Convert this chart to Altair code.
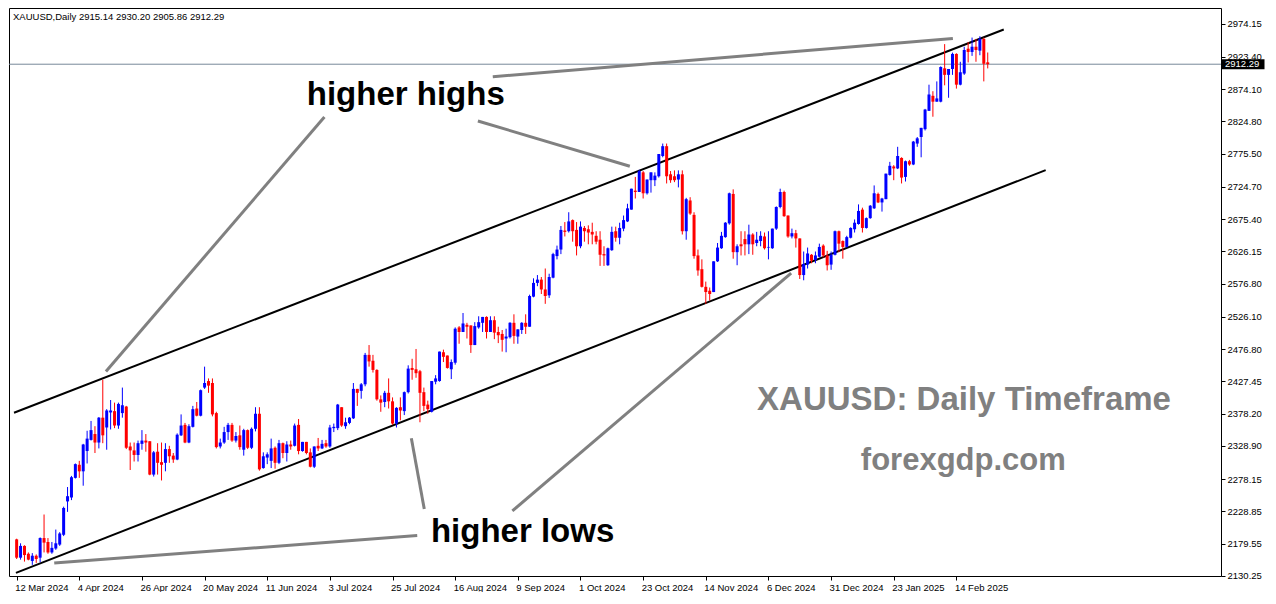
import altair as alt
import pandas as pd

# ---------------- data ----------------
opens = [2186,2158,2176,2164,2153,2161,2158,2188,2182,2166,2172,2178,2193,2244,2250,2280,2300,2290,2321,2338,
         2347,2334,2372,2357,2380,2382,2360,2379,2389,2328,2322,2315,2332,2337,2336,2285,2320,2304,2303,2324,
         2314,2308,2345,2361,2334,2358,2386,2375,2418,2428,2425,2379,2328,2334,2350,2361,2337,2345,2323,2353,
         2326,2355,2378,2295,2311,2306,2326,2303,2333,2318,2331,2329,2361,2321,2335,2319,2297,2329,2325,2333,
         2328,2356,2356,2388,2359,2364,2371,2416,2413,2423,2468,2459,2445,2400,2396,2410,2397,2363,2388,2382,
         2411,2448,2446,2443,2411,2392,2381,2427,2428,2472,2467,2446,2456,2510,2503,2514,2513,2483,2510,2517,
         2526,2503,2521,2503,2500,2493,2495,2517,2496,2506,2517,2511,2557,2578,2583,2568,2559,2586,2619,2629,
         2658,2657,2674,2659,2634,2662,2660,2656,2650,2644,2622,2605,2628,2657,2647,2661,2672,2690,2719,2717,
         2747,2715,2735,2735,2741,2772,2787,2744,2741,2736,2744,2657,2704,2682,2620,2599,2572,2566,2564,2611,
         2631,2648,2669,2714,2625,2637,2645,2637,2652,2639,2642,2649,2632,2631,2661,2694,2717,2681,2649,2654,
         2646,2590,2606,2621,2613,2618,2635,2620,2606,2621,2657,2642,2633,2647,2660,2668,2690,2662,2677,2692,
         2714,2701,2706,2743,2756,2753,2769,2740,2764,2759,2791,2801,2813,2841,2864,2855,2855,2906,2896,2905,
         2928,2881,2898,2936,2931,2939,2933,2951,2915.14]
highs = [2187,2180,2177,2166,2165,2163,2189,2224,2188,2182,2201,2197,2236,2266,2283,2302,2306,2332,2352,2367,
         2359,2373,2430,2385,2399,2395,2395,2418,2390,2334,2334,2337,2353,2347,2336,2321,2333,2334,2333,2329,
         2318,2348,2377,2364,2362,2390,2396,2415,2450,2432,2432,2381,2340,2358,2364,2364,2350,2360,2355,2354,
         2357,2388,2388,2319,2319,2340,2328,2338,2334,2336,2337,2363,2370,2335,2335,2325,2328,2341,2338,2338,
         2361,2363,2393,2388,2372,2373,2425,2416,2425,2471,2483,2468,2446,2406,2413,2432,2403,2388,2403,2412,
         2452,2462,2477,2445,2418,2398,2428,2437,2473,2476,2467,2461,2510,2512,2532,2517,2513,2518,2527,2526,
         2527,2527,2527,2511,2506,2508,2518,2530,2507,2518,2530,2560,2585,2590,2587,2600,2592,2624,2635,2665,
         2671,2686,2675,2671,2672,2665,2666,2670,2657,2657,2634,2632,2664,2664,2670,2681,2699,2722,2740,2751,
         2749,2736,2747,2747,2775,2791,2791,2749,2750,2750,2750,2708,2709,2686,2629,2614,2580,2571,2611,2639,
         2656,2671,2716,2721,2637,2657,2657,2667,2654,2656,2657,2655,2657,2661,2695,2722,2719,2681,2661,2659,
         2646,2626,2632,2622,2626,2638,2637,2627,2626,2658,2658,2643,2650,2663,2675,2698,2693,2678,2697,2727,
         2716,2708,2745,2763,2758,2786,2770,2765,2766,2795,2801,2815,2844,2881,2871,2886,2909,2943,2905,2930,
         2929,2916,2939,2946,2953,2951,2955,2953,2930.20]
lows = [2156,2155,2152,2154,2147,2150,2151,2166,2164,2164,2170,2176,2191,2228,2246,2279,2280,2268,2302,2337,
        2318,2325,2333,2323,2354,2356,2355,2372,2324,2292,2305,2305,2323,2320,2284,2282,2285,2276,2290,2303,
        2303,2307,2344,2333,2333,2357,2374,2374,2416,2410,2374,2325,2325,2332,2338,2335,2334,2323,2314,2324,
        2324,2351,2291,2294,2301,2295,2294,2301,2310,2305,2323,2328,2316,2320,2316,2296,2295,2321,2324,2326,
        2326,2350,2353,2358,2355,2362,2370,2390,2401,2420,2450,2441,2398,2381,2388,2386,2361,2357,2368,2376,
        2409,2430,2433,2365,2382,2378,2380,2423,2427,2457,2447,2431,2453,2485,2503,2493,2471,2483,2508,2503,
        2493,2503,2492,2486,2473,2472,2493,2485,2485,2500,2500,2511,2556,2573,2561,2546,2555,2585,2614,2622,
        2649,2655,2641,2620,2631,2641,2637,2637,2637,2604,2604,2604,2627,2641,2637,2657,2671,2690,2707,2717,
        2707,2713,2716,2726,2739,2770,2730,2731,2732,2724,2652,2644,2682,2615,2589,2571,2546,2551,2564,2610,
        2630,2647,2667,2615,2605,2620,2620,2622,2621,2634,2634,2629,2614,2630,2659,2692,2679,2647,2646,2632,
        2584,2582,2600,2608,2608,2617,2617,2597,2598,2620,2625,2615,2632,2646,2655,2667,2655,2661,2676,2691,
        2700,2687,2706,2742,2735,2752,2730,2733,2757,2758,2786,2770,2811,2841,2832,2855,2854,2880,2861,2896,
        2875,2880,2896,2915,2925,2916,2926,2886,2905.86]
closes = [2158,2176,2162,2155,2161,2156,2188,2181,2166,2173,2180,2195,2234,2252,2281,2301,2290,2331,2340,2353,
          2334,2372,2345,2383,2383,2360,2393,2391,2326,2322,2315,2333,2337,2334,2285,2319,2303,2300,2324,2313,
          2308,2346,2360,2334,2359,2385,2375,2414,2425,2421,2377,2327,2334,2350,2361,2337,2344,2327,2353,2326,
          2355,2378,2293,2313,2316,2325,2303,2333,2318,2331,2328,2360,2321,2335,2318,2297,2328,2325,2332,2328,
          2357,2358,2392,2360,2365,2372,2416,2410,2423,2468,2458,2445,2400,2395,2410,2397,2363,2387,2383,2411,
          2447,2445,2440,2410,2390,2385,2428,2432,2473,2465,2448,2457,2508,2503,2516,2511,2483,2512,2518,2526,
          2503,2521,2502,2498,2491,2496,2517,2497,2507,2517,2511,2558,2578,2583,2568,2558,2587,2622,2629,2659,
          2656,2672,2657,2634,2664,2657,2655,2652,2641,2621,2620,2631,2656,2647,2662,2674,2692,2722,2717,2749,
          2715,2736,2747,2742,2775,2787,2741,2735,2735,2744,2657,2706,2684,2619,2597,2572,2564,2561,2611,2632,
          2650,2670,2715,2625,2634,2634,2637,2652,2637,2644,2650,2631,2633,2661,2694,2717,2680,2649,2654,2646,
          2590,2607,2623,2612,2620,2633,2620,2605,2621,2657,2638,2633,2648,2662,2670,2688,2662,2677,2696,2715,
          2701,2707,2745,2757,2753,2772,2739,2764,2759,2794,2799,2815,2843,2866,2855,2860,2908,2896,2905,2928,
          2881,2900,2934,2931,2939,2934,2951,2913,2912.29]

date_labels = ["12 Mar 2024", "4 Apr 2024", "26 Apr 2024", "20 May 2024", "11 Jun 2024", "3 Jul 2024",
               "25 Jul 2024", "16 Aug 2024", "9 Sep 2024", "1 Oct 2024", "23 Oct 2024", "14 Nov 2024",
               "6 Dec 2024", "31 Dec 2024", "23 Jan 2025", "14 Feb 2025"]
date_ticks = [0, 16, 32, 48, 64, 80, 96, 112, 128, 144, 160, 176, 192, 208, 224, 240]
price_ticks = [2974.15, 2923.40, 2874.10, 2824.80, 2775.50, 2724.70, 2675.40, 2626.15, 2576.80,
               2526.10, 2476.80, 2427.45, 2378.20, 2328.90, 2278.15, 2228.85, 2179.55, 2130.25]

# channel trend lines (bar index, price)
chan_x1 = [-0.675, -0.175]
chan_p1 = [2379.5, 2134.8]
chan_x2 = [252.1, 262.8]
chan_p2 = [2965.4, 2750.4]

# grey pointer lines
grey_x1 = [78.6, 117.8, 121.6, 104.1, 126.6, 102.3]
grey_p1 = [2831.5, 2825.5, 2893.1, 2232.4, 2229.4, 2191.9]
grey_x2 = [22.8, 156.6, 239.1, 100.8, 197.8, 9.6]
grey_p2 = [2442.6, 2756.4, 2951.6, 2340.5, 2592.8, 2149.8]

# annotation texts
ann_text = ["higher highs", "higher lows", "XAUUSD: Daily Timeframe", "forexgdp.com"]
ann_x = [74.1, 105.8, 189.1, 215.6]
ann_p = [2849.5, 2181.4, 2384.1, 2292.5]
ann_col = ["black", "black", "grey", "grey"]
ann_size = [33, 33, 33, 31]

last_price = closes[-1]
title_txt = "XAUUSD,Daily  2915.14 2930.20 2905.86 2912.29"

# ---------------- chart ----------------
W, H = 1212, 568
FONT = "Liberation Sans"

df = pd.DataFrame({"i": list(range(len(opens))), "o": opens, "h": highs, "l": lows, "c": closes})
df["dir"] = ["up" if c >= o else "down" for o, c in zip(opens, closes)]

xs = alt.Scale(domain=[-0.675, 306.3], nice=False, zero=False)
ys = alt.Scale(domain=[2130.0, 2998.2], nice=False, zero=False)
col = alt.Color("dir:N", scale=alt.Scale(domain=["up", "down"], range=["#0000FF", "#FF0000"]), legend=None)

label_expr = "[" + ",".join("'%s'" % d for d in date_labels) + "][round(datum.value/16)]"
xaxis = alt.Axis(values=date_ticks, tickCount=len(date_ticks), labelExpr=label_expr, grid=False,
                 domain=False, tickSize=4, tickColor="black", labelAlign="left", labelFont=FONT,
                 labelFontSize=9.5, labelColor="black", labelPadding=2, title=None, labelOverlap=False,
                 labelFlush=False, labelOffset=-2)
yaxis = alt.Axis(orient="right", values=price_ticks, tickCount=len(price_ticks), format=".2f", grid=False,
                 domain=False, tickSize=4, tickColor="black", labelFont=FONT, labelFontSize=9.5,
                 labelColor="black", labelPadding=2, title=None, labelOverlap=False, labelFlush=False)

wicks = alt.Chart(df).mark_rule(strokeWidth=1).encode(
    x=alt.X("i:Q", scale=xs, axis=xaxis),
    y=alt.Y("l:Q", scale=ys, axis=yaxis),
    y2="h:Q",
    color=col,
)
bodies = alt.Chart(df).mark_bar(size=3).encode(
    x=alt.X("i:Q", scale=xs),
    y=alt.Y("o:Q", scale=ys),
    y2="c:Q",
    color=col,
)

chan_df = pd.DataFrame({"x1": chan_x1, "p1": chan_p1, "x2": chan_x2, "p2": chan_p2})
chans = alt.Chart(chan_df).mark_rule(color="black", strokeWidth=2).encode(
    x=alt.X("x1:Q", scale=xs), x2="x2:Q", y=alt.Y("p1:Q", scale=ys), y2="p2:Q")

grey_df = pd.DataFrame({"x1": grey_x1, "p1": grey_p1, "x2": grey_x2, "p2": grey_p2})
greys = alt.Chart(grey_df).mark_rule(color="#808080", strokeWidth=3).encode(
    x=alt.X("x1:Q", scale=xs), x2="x2:Q", y=alt.Y("p1:Q", scale=ys), y2="p2:Q")

lp_df = pd.DataFrame({"p": [last_price], "t": ["%.2f" % last_price]})
pline = alt.Chart(lp_df).mark_rule(color="#778899", strokeWidth=1).encode(y=alt.Y("p:Q", scale=ys))
pbox = alt.Chart(lp_df).mark_point(
    shape="M-1,-0.23H1V0.23H-1Z", filled=True, color="black", opacity=1, size=1850
).encode(y=alt.Y("p:Q", scale=ys), x=alt.value(W + 22))
ptext = alt.Chart(lp_df).mark_text(
    color="white", font=FONT, fontSize=9.5, align="left", baseline="middle"
).encode(y=alt.Y("p:Q", scale=ys), x=alt.value(W + 4), text="t:N")

ann_df = pd.DataFrame({"x": ann_x, "p": ann_p, "t": ann_text, "c": ann_col, "s": ann_size})
anns = alt.Chart(ann_df).mark_text(
    font=FONT, fontWeight="bold", align="left", baseline="alphabetic"
).encode(
    x=alt.X("x:Q", scale=xs), y=alt.Y("p:Q", scale=ys), text="t:N",
    color=alt.Color("c:N", scale=None), size=alt.Size("s:Q", scale=None),
)

title_df = pd.DataFrame({"t": [title_txt]})
title = alt.Chart(title_df).mark_text(
    font=FONT, fontSize=9.5, align="left", baseline="top", color="black"
).encode(x=alt.value(4), y=alt.value(4), text="t:N")

chart = alt.layer(pline, chans, greys, wicks, bodies, anns, title, pbox, ptext).properties(
    width=W, height=H, padding={"left": 0, "top": 0, "right": 0, "bottom": 0}, background="white"
).configure_view(stroke="black", strokeWidth=1)

chart.save("out.html", embed_options={"renderer": "svg", "actions": False})
